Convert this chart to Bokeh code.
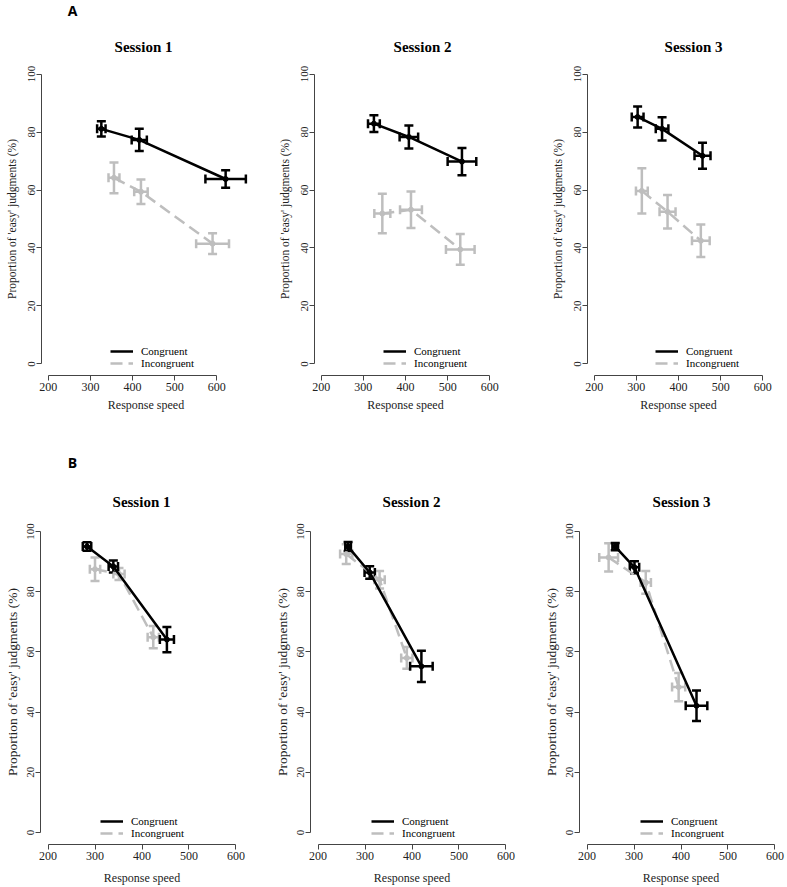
from bokeh.plotting import figure
from bokeh.models import (Range1d, FixedTicker, ColumnDataSource, Whisker,
                          TeeHead, Legend, LegendItem, Label)
from bokeh.layouts import column, row
from bokeh.embed import file_html
from bokeh.resources import INLINE

# ---------------- data ----------------
sessions = ["Session 1", "Session 2", "Session 3"]
panel_letters = ["A", "B"]
series_labels = ["Congruent", "Incongruent"]
x_ticks = [200, 300, 400, 500, 600]
y_ticks = [0, 20, 40, 60, 80, 100]
x_label = "Response speed"
y_label = "Proportion of 'easy' judgments (%)"

# Panel A (one list per session)
A_cong_x = [[326, 416, 621], [325, 408, 534], [303, 361, 457]]
A_cong_xerr = [[10, 18, 48], [14, 22, 34], [14, 15, 19]]
A_cong_y = [[81.1, 77.3, 63.8], [82.9, 78.3, 69.8], [85.2, 81.1, 71.8]]
A_cong_yerr = [[2.6, 3.8, 3.0], [2.9, 4.0, 4.7], [3.6, 4.0, 4.5]]
A_inc_x = [[356, 420, 590], [345, 413, 530], [313, 374, 453]]
A_inc_xerr = [[13, 16, 39], [19, 26, 34], [14, 19, 21]]
A_inc_y = [[64.2, 59.4, 41.5], [51.9, 53.2, 39.5], [59.7, 52.5, 42.5]]
A_inc_yerr = [[5.3, 4.2, 3.6], [6.8, 6.3, 5.3], [7.8, 5.8, 5.6]]

# Panel B
B_cong_x = [[283, 339, 453], [264, 310, 420], [260, 301, 433]]
B_cong_xerr = [[9, 10, 15], [6, 11, 24], [6, 10, 23]]
B_cong_y = [[95.0, 88.4, 64.1], [95.0, 86.4, 55.2], [95.0, 88.1, 42.1]]
B_cong_yerr = [[1.4, 2.0, 4.2], [1.5, 2.1, 5.2], [1.2, 2.0, 5.1]]
B_inc_x = [[300, 351, 424], [260, 331, 389], [246, 325, 395]]
B_inc_xerr = [[11, 12, 12], [13, 11, 12], [20, 11, 14]]
B_inc_y = [[87.5, 85.9, 64.9], [92.5, 84.0, 58.0], [91.4, 83.1, 48.3]]
B_inc_yerr = [[3.9, 2.0, 3.7], [3.3, 2.9, 3.6], [4.7, 3.8, 4.7]]

# ---------------- style ----------------
BLACK = "#000000"
GRAY = "#bebebe"
AXIS = "#444444"
SERIF = "Liberation Serif"
TOTAL_W = 787


def make_panel(cx, cxe, cy, cye, ix, ixe, iy, iye, w, h, bl, br, bb,
               x_end, leg_xy, ylab_size, ylab_standoff, xlab_standoff):
    p = figure(width=w, height=h, x_range=Range1d(184, x_end), y_range=Range1d(-4, 104),
               output_backend="svg", toolbar_location=None,
               min_border_left=bl, min_border_right=br,
               min_border_top=0, min_border_bottom=bb)
    p.xgrid.visible = False
    p.ygrid.visible = False
    p.outline_line_color = None
    p.background_fill_color = "white"
    p.border_fill_color = "white"

    for ax, ticks, bounds in ((p.xaxis[0], x_ticks, (200, 600)), (p.yaxis[0], y_ticks, (0, 100))):
        ax.ticker = FixedTicker(ticks=ticks)
        ax.bounds = bounds
        ax.axis_line_color = AXIS
        ax.axis_line_width = 1
        ax.major_tick_line_color = AXIS
        ax.major_tick_out = 5
        ax.major_tick_in = 0
        ax.minor_tick_out = 0
        ax.minor_tick_in = 0
        ax.major_label_text_font = SERIF
        ax.major_label_text_color = "#222222"
        ax.axis_label_text_font = SERIF
        ax.axis_label_text_font_style = "normal"
        ax.axis_label_text_color = "#222222"
    p.xaxis.major_label_standoff = 2
    p.yaxis.major_label_standoff = 1
    p.xaxis.major_label_text_font_size = "12px"
    p.yaxis.major_label_text_font_size = "11px"
    p.xaxis.axis_label = x_label
    p.xaxis.axis_label_text_font_size = "12px"
    p.xaxis.axis_label_standoff = xlab_standoff
    p.yaxis.axis_label = y_label
    p.yaxis.axis_label_text_font_size = ylab_size
    p.yaxis.major_label_orientation = "vertical"
    p.yaxis.axis_label_standoff = ylab_standoff

    rends = {}
    for key, xs, xe, ys, ye, color, dash in (
            ("inc", ix, ixe, iy, iye, GRAY, "12 6"),
            ("cong", cx, cxe, cy, cye, BLACK, "solid")):
        src = ColumnDataSource(dict(
            x=xs, y=ys,
            xl=[a - b for a, b in zip(xs, xe)], xu=[a + b for a, b in zip(xs, xe)],
            yl=[a - b for a, b in zip(ys, ye)], yu=[a + b for a, b in zip(ys, ye)]))
        for dim, base, lo, up in (("height", "x", "yl", "yu"), ("width", "y", "xl", "xu")):
            p.add_layout(Whisker(
                source=src, base=base, lower=lo, upper=up, dimension=dim,
                line_color=color, line_width=2.5,
                upper_head=TeeHead(size=9, line_color=color, line_width=2.5),
                lower_head=TeeHead(size=9, line_color=color, line_width=2.5)))
        r = p.line("x", "y", source=src, line_color=color, line_width=2.5, line_dash=dash)
        p.scatter("x", "y", source=src, size=5, color=color)
        rends[key] = r

    legend = Legend(items=[LegendItem(label=series_labels[0], renderers=[rends["cong"]]),
                           LegendItem(label=series_labels[1], renderers=[rends["inc"]])],
                    location=leg_xy, orientation="vertical",
                    background_fill_alpha=0, border_line_alpha=0,
                    label_text_font=SERIF, label_text_font_size="11px",
                    label_text_color="black",
                    glyph_width=23, glyph_height=12, label_height=12,
                    label_standoff=8, spacing=0, padding=0, margin=0)
    p.add_layout(legend)
    return p


def header(height, letter, letter_pos, title_xs, title_y):
    """A strip holding the panel letter and the three session titles (pixel coords)."""
    h = figure(width=TOTAL_W, height=height, x_range=Range1d(0, TOTAL_W),
               y_range=Range1d(height, 0), output_backend="svg", toolbar_location=None,
               x_axis_location=None, y_axis_location=None,
               min_border_left=0, min_border_right=0, min_border_top=0, min_border_bottom=0)
    h.xgrid.visible = False
    h.ygrid.visible = False
    h.outline_line_color = None
    h.add_layout(Label(x=letter_pos[0], y=letter_pos[1], text=letter, text_align="center",
                       text_baseline="middle", text_font="Open Sans", text_font_style="bold",
                       text_font_size="14px", text_color="black"))
    for t, tx in zip(sessions, title_xs):
        h.add_layout(Label(x=tx, y=title_y, text=t, text_align="center", text_baseline="middle",
                           text_font=SERIF, text_font_style="bold", text_font_size="15px",
                           text_color="black"))
    return h


# top row (frames: 182 px for 184..616; A1 extended to 680 so its wide bar is not clipped)
top_w = [273, 273, 241]
top_br = [23, 50, 18]
top_xend = [680, 616, 616]
top_leg = [(69, 6), (69, 6), (68, 6)]
top = []
for i in range(3):
    top.append(make_panel(A_cong_x[i], A_cong_xerr[i], A_cong_y[i], A_cong_yerr[i],
                          A_inc_x[i], A_inc_xerr[i], A_inc_y[i], A_inc_yerr[i],
                          top_w[i], 377, 41, top_br[i], 64, top_xend[i], top_leg[i],
                          "11.5px", 8, 4))

# bottom row (frames: 203 px for 184..616)
bot_w = [270, 269, 248]
bot_br = [27, 26, 5]
bot_leg = [(60, 5), (61, 5), (61, 5)]
bot = []
for i in range(3):
    bot.append(make_panel(B_cong_x[i], B_cong_xerr[i], B_cong_y[i], B_cong_yerr[i],
                          B_inc_x[i], B_inc_xerr[i], B_inc_y[i], B_inc_yerr[i],
                          bot_w[i], 368, 40, bot_br[i], 42, 616, bot_leg[i],
                          "13.5px", 5, 8))

head_top = header(62, panel_letters[0], (72, 10), [143, 422, 693], 46)
head_bot = header(80, panel_letters[1], (72, 23), [141, 411, 681], 62)

layout = column(head_top, row(*top, spacing=0), head_bot, row(*bot, spacing=0), spacing=0)

open("out.html", "w").write(file_html(layout, INLINE))
